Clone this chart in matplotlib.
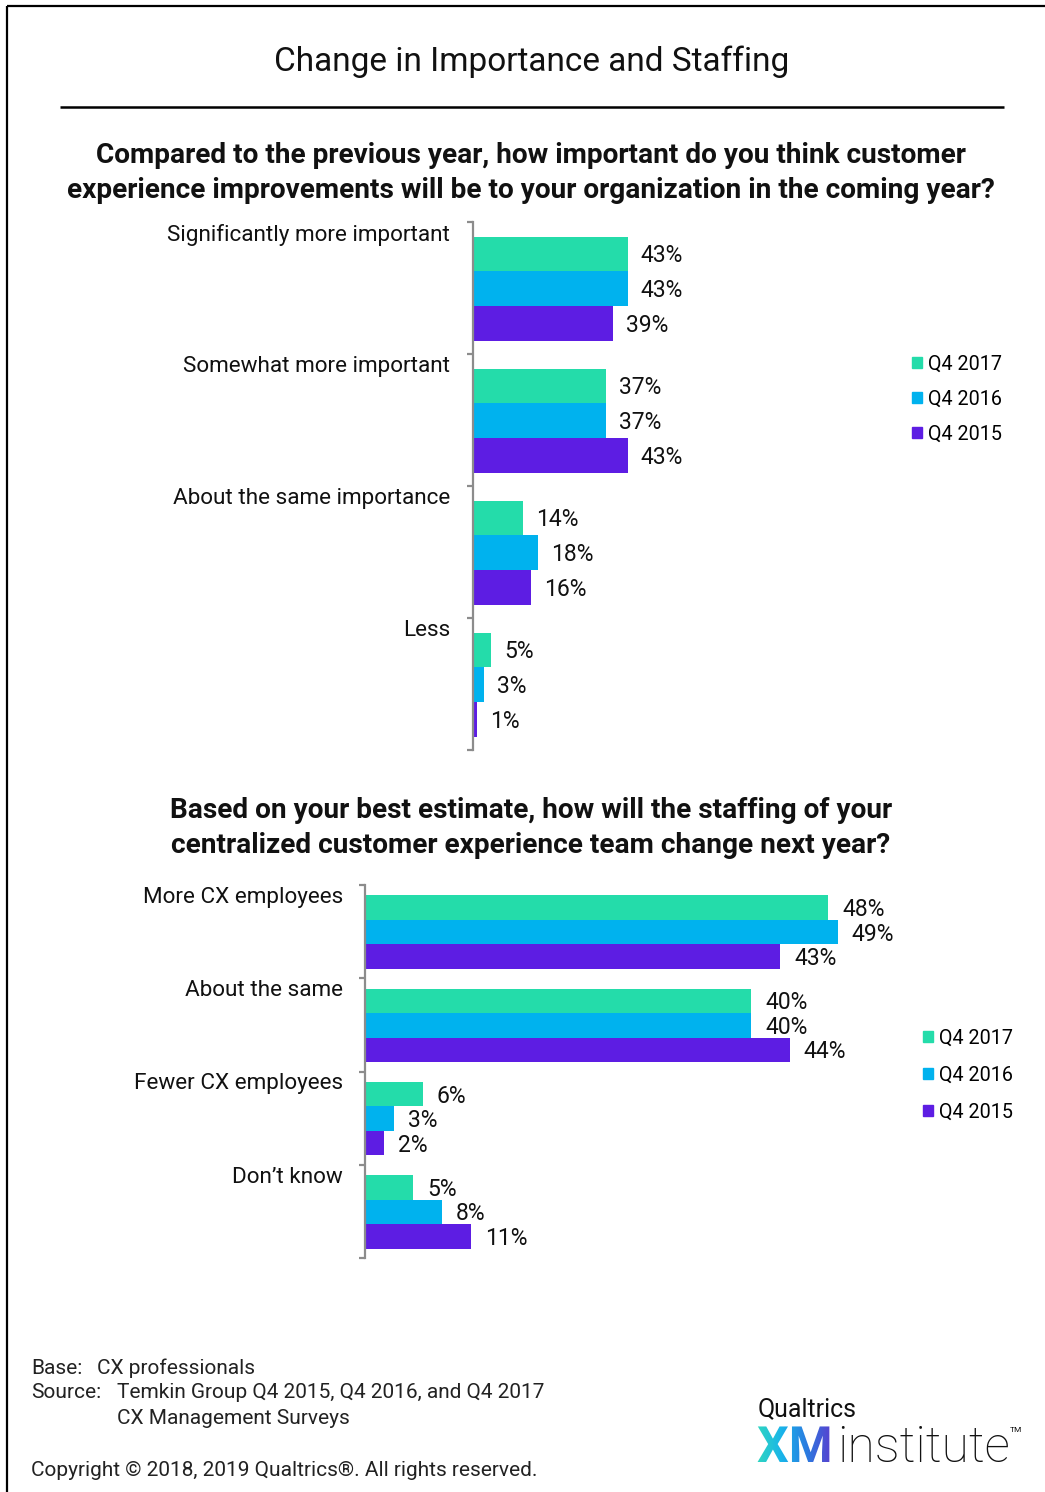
import numpy as np
import matplotlib.pyplot as plt
from matplotlib.patches import Patch, PathPatch
from matplotlib.textpath import TextPath
from matplotlib.font_manager import FontProperties
from matplotlib.transforms import Affine2D
from matplotlib.colors import LinearSegmentedColormap

plt.rcParams['font.family'] = ['Roboto', 'DejaVu Sans']

# survey results (percent of respondents)
years = ["Q4 2017", "Q4 2016", "Q4 2015"]
colors = ["#24dcaa", "#00b2ee", "#5d1de3"]

importance_cats = ["Significantly more important", "Somewhat more important",
                   "About the same importance", "Less"]
imp_2017 = [43, 37, 14, 5]
imp_2016 = [43, 37, 18, 3]
imp_2015 = [39, 43, 16, 1]

staffing_cats = ["More CX employees", "About the same",
                 "Fewer CX employees", "Don\u2019t know"]
staff_2017 = [48, 40, 6, 5]
staff_2016 = [49, 40, 3, 8]
staff_2015 = [43, 44, 2, 11]

W, H = 1045, 1492
fig = plt.figure(figsize=(W / 100, H / 100), dpi=100)

# full-figure layer in pixel coordinates for frame, titles and footer
bg = fig.add_axes([0, 0, 1, 1])
bg.set_xlim(0, W)
bg.set_ylim(H, 0)
bg.axis('off')


def px_rect(x0, y0, x1, y1):
    return [x0 / W, 1 - y1 / H, (x1 - x0) / W, (y1 - y0) / H]


def draw_chart(rect, cats, series, xmax, label_gap, value_gap, legend_xy, legend_gap):
    ax = fig.add_axes(rect)
    n = len(cats)
    h = 0.263
    start = 0.11
    for j, vals in enumerate(series):
        y = np.arange(n) + start + h * (j + 0.5)
        ax.barh(y, vals, height=h, color=colors[j], label=years[j])
        for yy, v in zip(y, vals):
            ax.annotate(f"{v}%", (v, yy), xytext=(value_gap, -2),
                        textcoords='offset pixels', ha='left', va='center',
                        fontsize=16.5, color='#111111')
    for i, c in enumerate(cats):
        ax.annotate(c, (0, i), xytext=(-label_gap, -12.5),
                    textcoords='offset pixels', ha='right', va='center',
                    fontsize=16.2, color='#111111', annotation_clip=False)
    ax.set_xlim(0, xmax)
    ax.set_ylim(n, 0)
    for s in ['top', 'right', 'bottom']:
        ax.spines[s].set_visible(False)
    ax.spines['left'].set_color('#8c8c8c')
    ax.spines['left'].set_linewidth(1.6)
    ax.set_xticks([])
    ax.set_yticks(np.arange(n + 1))
    ax.set_yticklabels([])
    ax.tick_params(axis='y', length=4.5, width=1.6, color='#8c8c8c')
    ax.patch.set_alpha(0)
    handles = [Patch(color=c) for c in colors]
    ax.legend(handles, years, loc='center left', frameon=False,
              bbox_to_anchor=(legend_xy[0] / W, 1 - legend_xy[1] / H),
              bbox_transform=fig.transFigure, fontsize=14.2,
              handlelength=0.5, handleheight=0.5, handletextpad=0.3,
              borderpad=0, borderaxespad=0, labelspacing=legend_gap)
    return ax


# frame
bg.plot([7, 7], [6, H], color='black', lw=1.6, solid_capstyle='butt')
bg.plot([7, W], [6, 6], color='black', lw=1.6, solid_capstyle='butt')

bg.text(532, 62, "Change in Importance and Staffing", ha='center', va='center',
        fontsize=24, color='#111111')
bg.plot([60, 1004], [107, 107], color='black', lw=1.8, solid_capstyle='butt')

bg.text(531, 173, "Compared to the previous year, how important do you think customer\n"
        "experience improvements will be to your organization in the coming year?",
        ha='center', va='center', fontsize=20.2, fontweight='bold',
        linespacing=1.36, color='#111111')

draw_chart(px_rect(473, 222, 833, 750), importance_cats,
           [imp_2017, imp_2016, imp_2015], 100, 23, 13, (912, 399), 0.82)

bg.text(531, 828, "Based on your best estimate, how will the staffing of your\n"
        "centralized customer experience team change next year?",
        ha='center', va='center', fontsize=20.2, fontweight='bold',
        linespacing=1.36, color='#111111')

draw_chart(px_rect(365, 885, 944, 1258), staffing_cats,
           [staff_2017, staff_2016, staff_2015], 60, 22, 14, (923, 1075), 0.9)

# footer
foot = dict(fontsize=15, color='#222222', va='center', ha='left')
bg.text(31, 1368, "Base:", **foot)
bg.text(97, 1368, "CX professionals", **foot)
bg.text(31, 1393, "Source:", **foot)
bg.text(117, 1393, "Temkin Group Q4 2015, Q4 2016, and Q4 2017", **foot)
bg.text(117, 1418, "CX Management Surveys", **foot)
bg.text(31, 1471, "Copyright \u00a9 2018, 2019 Qualtrics\u00ae. All rights reserved.", **foot)

# logo
bg.text(758, 1416, "Qualtrics", fontsize=17.9, color='#111111', ha='left', va='baseline')
xm = TextPath((0, 0), "XM", size=50, prop=FontProperties(family='Roboto', weight='bold'))
xm = xm.transformed(Affine2D().scale(1, -1).translate(757, 1462))
xm_patch = PathPatch(xm, facecolor='none', edgecolor='none')
bg.add_patch(xm_patch)
grad = LinearSegmentedColormap.from_list('xm', ['#2fd6c0', '#19b4ea', '#2b7be0', '#5a3fcf'])
img = bg.imshow(np.linspace(0, 1, 256)[None, :], cmap=grad, aspect='auto',
                extent=(757, 832, 1462, 1424), interpolation='bilinear')
img.set_clip_path(xm_patch)
bg.text(837, 1462, "institute", fontsize=36, fontweight='light', color='#111111',
        ha='left', va='baseline')
bg.text(1010, 1432, "TM", fontsize=6, color='#111111', ha='left', va='baseline')
bg.set_xlim(0, W)
bg.set_ylim(H, 0)

fig.savefig("out.png", dpi=100)
